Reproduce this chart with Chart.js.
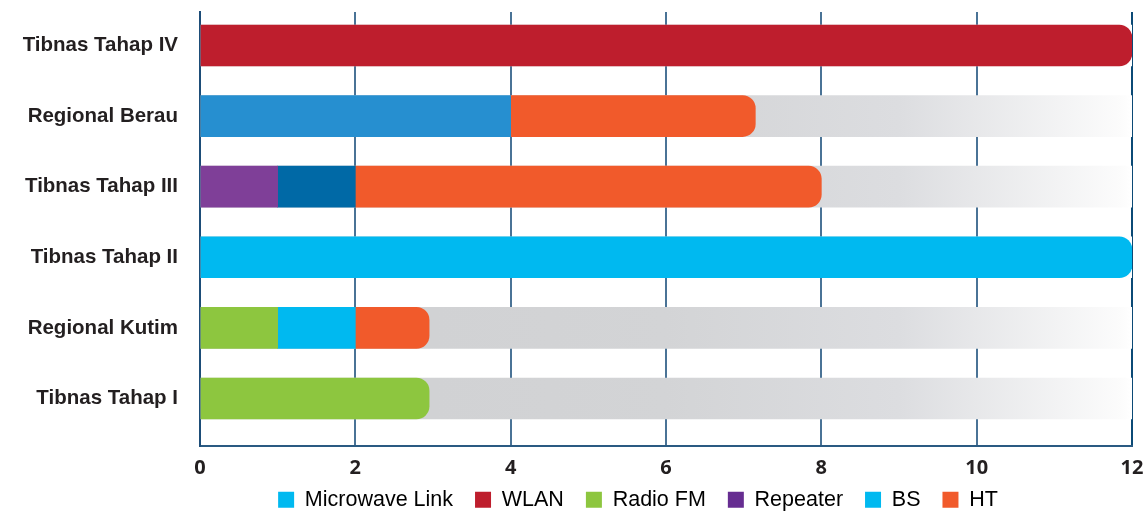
<!DOCTYPE html>
<html>
<head>
<meta charset="utf-8">
<script src="https://cdn.jsdelivr.net/npm/chart.js@4.4.1/dist/chart.umd.min.js"></script>
<style>
  html, body { margin: 0; padding: 0; background: #fff; }
</style>
</head>
<body>
<canvas id="chart" width="1148" height="513"></canvas>
<script>
// data
const categories = ["Tibnas Tahap IV", "Regional Berau", "Tibnas Tahap III", "Tibnas Tahap II", "Regional Kutim", "Tibnas Tahap I"];
const radioFM = [0, 0, 0, 0, 1, 2.95];
const repeater = [0, 0, 1, 0, 0, 0];
const microwaveLink = [0, 4, 1, 0, 0, 0];
const bs = [0, 0, 0, 12, 1, 0];
const ht = [0, 3.15, 6, 0, 0.95, 0];
const wlan = [12, 0, 0, 0, 0, 0];
const trackMax = [12, 12, 12, 12, 12, 12];
const xTickMax = 12;

// legend (order as in the picture)
const legendNames = ["Microwave Link", "WLAN", "Radio FM", "Repeater", "BS", "HT"];
const legendColors = ["#00b9f0", "#be1e2d", "#8dc63f", "#662d91", "#00b9f0", "#f15a2b"];

// stack order: the first dataset sits at the left of the bar
const mainSeries = [radioFM, repeater, microwaveLink, bs, ht, wlan];

// zeros become null so no hairline bar is drawn for them
function toPoints(arr) {
  return arr.map((v, i) => ({ x: v || null, y: i }));
}

// only the last segment of a bar gets the round end
function isEnd(ctx) {
  const d = ctx.datasetIndex;
  const i = ctx.dataIndex;
  if (!mainSeries[d] || !mainSeries[d][i]) return false;
  for (let k = d + 1; k < mainSeries.length; k++) {
    if (mainSeries[k][i]) return false;
  }
  return true;
}
const roundEnd = ctx => isEnd(ctx) ? { topLeft: 0, bottomLeft: 0, topRight: 13, bottomRight: 13 } : 0;

function trackGradient(ctx) {
  const area = ctx.chart.chartArea;
  if (!area) return "#d1d2d4";
  const g = ctx.chart.ctx.createLinearGradient(area.left, 0, area.right, 0);
  g.addColorStop(0, "#cfd0d2");
  g.addColorStop(0.5, "#d3d4d6");
  g.addColorStop(0.75, "#dcdde0");
  g.addColorStop(0.99, "#fcfcfc");
  g.addColorStop(1, "#ffffff");
  return g;
}

const datasets = [
  { label: "Radio FM", data: toPoints(radioFM), backgroundColor: "#8dc63f" },
  { label: "Repeater", data: toPoints(repeater), backgroundColor: "#7f3f98" },
  { label: "Microwave Link", data: toPoints(microwaveLink), backgroundColor: ["#00b9f0", "#268fd0", "#0069a6", "#00b9f0", "#00b9f0", "#00b9f0"] },
  { label: "BS", data: toPoints(bs), backgroundColor: "#00b9f0" },
  { label: "HT", data: toPoints(ht), backgroundColor: "#f15a2b" },
  { label: "WLAN", data: toPoints(wlan), backgroundColor: "#be1e2d" }
].map(ds => Object.assign(ds, { stack: "main", order: 0, borderRadius: roundEnd }));

datasets.push({
  label: "track", data: toPoints(trackMax), stack: "track", order: 1,
  backgroundColor: trackGradient, borderRadius: 0
});

// legend sits right of the canvas centre and a bit higher in the picture
const legendShift = {
  id: "legendShift",
  afterLayout(chart) {
    const lg = chart.legend;
    lg.left += 72;
    lg.right += 72;
    lg.top = 467;
    lg.bottom = 513;
  }
};

const noPad = s => { s.paddingTop = 0; s.paddingBottom = 0; s.paddingLeft = 0; s.paddingRight = 0; };

new Chart(document.getElementById("chart"), {
  type: "bar",
  data: { datasets },
  plugins: [legendShift],
  options: {
    responsive: false,
    animation: false,
    indexAxis: "y",
    layout: { padding: { top: 12, right: 16, left: 0, bottom: 0 } },
    datasets: { bar: { grouped: false, barThickness: 41, borderWidth: 0, borderSkipped: "start" } },
    scales: {
      x: {
        type: "linear",
        stacked: true,
        min: 0,
        max: xTickMax,
        afterFit: s => { s.height = 34; noPad(s); },
        ticks: {
          stepSize: 2,
          padding: 10,
          color: "#231f20",
          font: { family: "'Open Sans'", weight: "bold", size: 20 }
        },
        grid: {
          drawTicks: false,
          lineWidth: 2,
          color: ctx => ctx.tick && ctx.tick.value === xTickMax ? "#0b4a76" : "#4a7396"
        },
        border: { display: true, color: "#2a5a82", width: 2 }
      },
      y: {
        type: "linear",
        offset: false,
        reverse: true,
        min: -0.4745,
        max: 5.673,
        afterFit: s => { s.width = 200; noPad(s); },
        ticks: {
          stepSize: 1,
          includeBounds: false,
          autoSkip: false,
          padding: 22,
          color: "#231f20",
          font: { family: "'Liberation Sans'", weight: "bold", size: 20.5 },
          callback: v => Number.isInteger(v) ? (categories[v] || "") : ""
        },
        grid: { display: false, drawTicks: false },
        border: { display: true, color: "#1d4d78", width: 2 }
      }
    },
    plugins: {
      tooltip: { enabled: false },
      legend: {
        position: "bottom",
        maxHeight: 33,
        labels: {
          boxWidth: 16,
          boxHeight: 16,
          padding: 22,
          color: "#231f20",
          font: { family: "'Liberation Sans'", size: 21.5 },
          generateLabels: () => legendNames.map((name, i) => ({
            text: name,
            fillStyle: legendColors[i],
            strokeStyle: legendColors[i],
            lineWidth: 0,
            hidden: false,
            datasetIndex: i
          }))
        }
      }
    }
  }
});
</script>
</body>
</html>
